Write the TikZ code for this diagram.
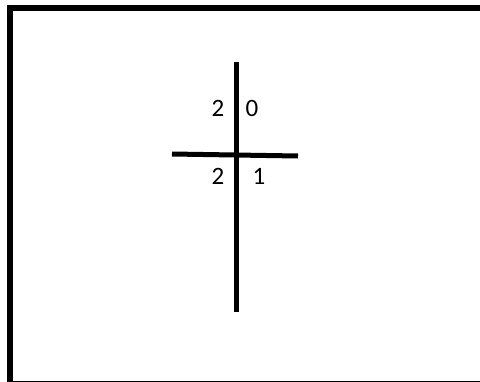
\documentclass[tikz,border=0pt]{standalone}
\usepackage{fontspec}
\setmainfont{Carlito}
\begin{document}
\begin{tikzpicture}[x=1pt,y=-1pt,
  frame/.style={line width=6pt},
  bar/.style={line width=5pt},
  digit/.style={font=\fontsize{25}{28}\selectfont, inner sep=0pt}]
\useasboundingbox (0,0) rectangle (480,381);
\clip (0,0) rectangle (480,381);
\draw[frame] (10,8) rectangle (500,383.5);
\coordinate (vt) at (236,62);
\coordinate (vb) at (236,312);
\coordinate (hl) at (172,154);
\coordinate (hr) at (298,156);
\draw[bar] (vt) -- (vb);
\draw[bar] (hl) -- (hr);
\node[digit] (tl) at (218,108) {2};
\node[digit] (tr) at (252,108) {0};
\node[digit] (bl) at (218,176) {2};
\node[digit] (br) at (259,176) {1};
\end{tikzpicture}
\end{document}
